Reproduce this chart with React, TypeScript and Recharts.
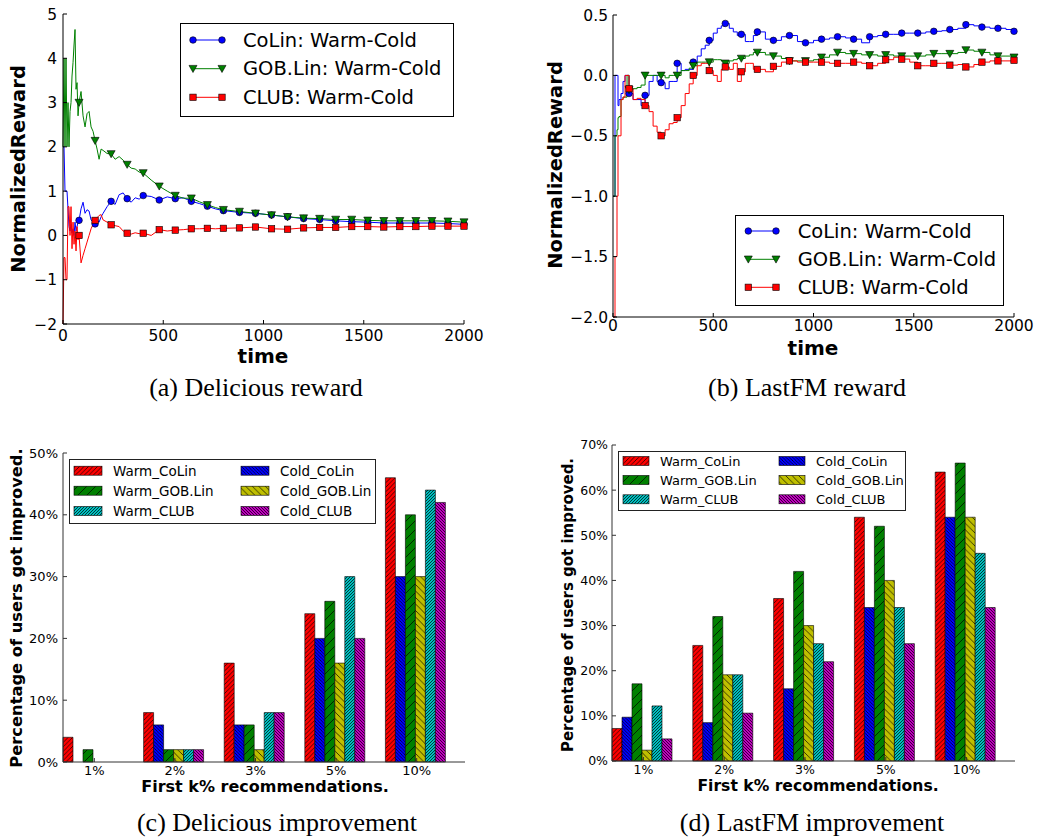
import React from 'react';
import { LineChart, Line, BarChart, Bar, XAxis, YAxis, Legend } from 'recharts';

const W = 1037;
const H = 839;
const SANS = '"DejaVu Sans", sans-serif';
const SERIF = '"Liberation Serif", "Times New Roman", serif';

// (a) Delicious reward
const timeA = [
  0, 5, 10, 15, 20, 25, 30, 35, 40, 45, 50, 55, 60, 65, 70, 75, 80,
  90, 100, 110, 120, 130, 140, 150, 160, 170, 180, 190, 200,
  220, 240, 260, 280, 300, 320, 340, 360, 380, 400,
  440, 480, 520, 560, 600, 640, 680, 720, 760, 800,
  880, 960, 1040, 1120, 1200, 1280, 1360, 1440, 1520, 1600, 1680, 1760, 1840, 1920, 2000,
];
const colinA = [
  2, 2, 1, 1, 1, 0.6, 0.2, 0.1, 0.25, 0.05, 0.15, 0.0, 0.3, 0.1, 0.2, 0.3, 0.34,
  0.6, 0.75, 0.5, 0.58, 0.55, 0.35, 0.3, 0.26, 0.35, 0.3, 0.42, 0.5,
  0.65, 0.77, 0.7, 0.92, 0.96, 0.83, 0.75, 0.85, 0.82, 0.9,
  0.88, 0.8, 0.87, 0.83, 0.85, 0.77, 0.72, 0.66, 0.6, 0.56,
  0.52, 0.5, 0.46, 0.42, 0.38, 0.36, 0.33, 0.31, 0.3, 0.28, 0.28, 0.28, 0.28, 0.27, 0.25,
];
const gobA = [
  2, 4, 2, 4, 2, 3, 2, 2.8, 3.0, 3.6, 3.9, 4.3, 4.65, 3.3, 3.45, 2.7, 3.0,
  3.25, 2.7, 2.45, 2.75, 2.8, 2.45, 2.35, 2.14, 1.95, 1.72, 1.95, 1.92,
  1.85, 1.84, 1.72, 1.78, 1.7, 1.6, 1.52, 1.5, 1.43, 1.41,
  1.25, 1.11, 1.0, 0.9, 0.84, 0.84, 0.76, 0.69, 0.63, 0.58,
  0.54, 0.5, 0.46, 0.42, 0.39, 0.38, 0.36, 0.36, 0.34, 0.33, 0.33, 0.33, 0.33, 0.32, 0.3,
];
const clubA = [
  -2, -0.5, -0.5, -1.0, -1.0, 0.65, 0.65, 0.0, 0.65, -0.3, 0.3, -0.2, 0.1, -0.35, 0.2, -0.1, 0.0,
  -0.62, -0.45, -0.3, -0.15, 0.0, 0.15, 0.25, 0.34, 0.4, 0.45, 0.47, 0.35,
  0.3, 0.24, 0.22, 0.2, 0.1, 0.05, 0.03, 0.06, 0.04, 0.05,
  0.0, 0.13, 0.1, 0.12, 0.13, 0.15, 0.15, 0.16, 0.15, 0.16,
  0.17, 0.19, 0.15, 0.14, 0.17, 0.18, 0.18, 0.2, 0.2, 0.19, 0.2, 0.2, 0.21, 0.21, 0.21,
];

// (b) LastFM reward
const timeB = [
  0, 5, 10, 15, 20, 25, 30, 40, 50, 60, 70, 80,
  100, 120, 140, 160, 180, 200, 220, 240, 260, 280, 300, 320, 340, 360, 380, 400,
  420, 440, 460, 480, 500, 520, 540, 560, 580, 600, 620, 640, 660, 680, 700, 720,
  760, 800, 840, 880, 920, 960, 1000, 1040, 1080, 1120, 1160, 1200, 1240, 1280, 1320, 1360,
  1400, 1440, 1480, 1520, 1560, 1600, 1640, 1680, 1720, 1760, 1800, 1840, 1880, 1920, 1960, 2000,
];
const colinB = [
  -1.0, -1.0, 0, 0, 0, -0.25, -0.2, -0.15, -0.05, 0, 0, -0.15,
  -0.2, -0.2, -0.25, -0.165, -0.05, 0.0, -0.05, -0.06, -0.11, -0.05, -0.05, 0.1, 0.04, 0.05, 0.05, 0.11,
  0.16, 0.22, 0.25, 0.29, 0.35, 0.39, 0.41, 0.43, 0.39, 0.36, 0.33, 0.34, 0.28, 0.28, 0.33, 0.36,
  0.3, 0.29, 0.32, 0.33, 0.28, 0.27, 0.29, 0.3, 0.31, 0.32, 0.31, 0.3, 0.27, 0.32, 0.33, 0.34,
  0.34, 0.35, 0.35, 0.35, 0.36, 0.365, 0.37, 0.38, 0.39, 0.42, 0.41, 0.4, 0.39, 0.39, 0.38, 0.365,
];
const gobB = [
  -1.0, -1.0, -0.5, -0.5, -0.45, -0.35, -0.34, -0.2, -0.18, -0.18, 0, -0.12,
  -0.11, -0.1, -0.08, 0.0, 0.0, 0.0, 0.0, 0.0, -0.02, 0.0, 0.0, 0.0, 0.04, 0.04, 0.06, 0.08,
  0.11, 0.11, 0.11, 0.11, 0.13, 0.13, 0.12, 0.1, 0.12, 0.13, 0.14, 0.14, 0.16, 0.17, 0.19, 0.19,
  0.17, 0.16, 0.14, 0.12, 0.12, 0.12, 0.13, 0.15, 0.17, 0.19, 0.18, 0.18, 0.17, 0.17, 0.16, 0.17,
  0.16, 0.16, 0.16, 0.16, 0.17, 0.18, 0.18, 0.18, 0.19, 0.21, 0.2, 0.19, 0.17, 0.16, 0.16, 0.15,
];
const clubB = [
  -2.0, -2.0, -1.5, -1.5, -1.0, -0.5, -0.5, -0.2, -0.18, 0.0, 0.0, -0.11,
  -0.2, -0.19, -0.2, -0.25, -0.3, -0.42, -0.47, -0.5, -0.45, -0.4, -0.39, -0.35, -0.25, -0.15, -0.07, 0.0,
  0.08, 0.1, 0.1, 0.04, 0.0, -0.05, 0.05, 0.07, 0.05, 0.1, -0.05, 0.03, 0.1, 0.1, 0.05, 0.05,
  0.03, 0.075, 0.11, 0.12, 0.11, 0.11, 0.11, 0.11, 0.1, 0.1, 0.1, 0.11, 0.1, 0.08, 0.1, 0.13,
  0.15, 0.135, 0.11, 0.08, 0.08, 0.1, 0.1, 0.085, 0.09, 0.07, 0.09, 0.11, 0.12, 0.12, 0.12, 0.125,
];

// (c) / (d) improvement bars
const categories = ['1%', '2%', '3%', '5%', '10%'];

const warmColinC = [4, 8, 16, 24, 46];
const coldColinC = [0, 6, 6, 20, 30];
const warmGobC = [2, 2, 6, 26, 40];
const coldGobC = [0, 2, 2, 16, 30];
const warmClubC = [0, 2, 8, 30, 44];
const coldClubC = [0, 2, 8, 20, 42];

const warmColinD = [7.2, 25.6, 36, 54, 64];
const coldColinD = [9.7, 8.5, 16, 34, 54];
const warmGobD = [17.1, 32, 42, 52, 66];
const coldGobD = [2.4, 19.1, 30, 40, 54];
const warmClubD = [12.2, 19.1, 26, 34, 46];
const coldClubD = [4.9, 10.6, 22, 26, 34];

const rowsA = timeA.map((t, i) => ({ t, colin: colinA[i], gob: gobA[i], club: clubA[i] }));
const rowsB = timeB.map((t, i) => ({ t, colin: colinB[i], gob: gobB[i], club: clubB[i] }));
const rowsC = categories.map((k, i) => ({
  k,
  warmColin: warmColinC[i], coldColin: coldColinC[i], warmGob: warmGobC[i],
  coldGob: coldGobC[i], warmClub: warmClubC[i], coldClub: coldClubC[i],
}));
const rowsD = categories.map((k, i) => ({
  k,
  warmColin: warmColinD[i], coldColin: coldColinD[i], warmGob: warmGobD[i],
  coldGob: coldGobD[i], warmClub: warmClubD[i], coldClub: coldClubD[i],
}));

const lineSeries = [
  { key: 'colin', name: 'CoLin: Warm-Cold', color: '#0000ff', shape: 'circle' },
  { key: 'gob', name: 'GOB.Lin: Warm-Cold', color: '#008000', shape: 'triangle' },
  { key: 'club', name: 'CLUB: Warm-Cold', color: '#ff0000', shape: 'square' },
];

// bar order inside a group, with hatch style
const barSeries = [
  { key: 'warmColin', name: 'Warm_CoLin', color: '#ff0000', dir: '/', gap: 4.5 },
  { key: 'coldColin', name: 'Cold_CoLin', color: '#0000ff', dir: '\\', gap: 3.3 },
  { key: 'warmGob', name: 'Warm_GOB.Lin', color: '#008000', dir: '/', gap: 9 },
  { key: 'coldGob', name: 'Cold_GOB.Lin', color: '#bfbf00', dir: '\\', gap: 6.5 },
  { key: 'warmClub', name: 'Warm_CLUB', color: '#00bfbf', dir: '/', gap: 3 },
  { key: 'coldClub', name: 'Cold_CLUB', color: '#bf00bf', dir: '\\', gap: 3 },
];
const legendOrder = ['warmColin', 'warmGob', 'warmClub', 'coldColin', 'coldGob', 'coldClub'];

const hatchPath = (dir: string, s: number) =>
  dir === '/'
    ? `M-1,1 l2,-2 M0,${s} l${s},${-s} M${s - 1},${s + 1} l2,-2`
    : `M-1,${s - 1} l2,2 M0,0 l${s},${s} M${s - 1},-1 l2,2`;

const Hatches = () => (
  <svg width={0} height={0} style={{ position: 'absolute' }}>
    <defs>
      {barSeries.map((s) => (
        <pattern key={s.key} id={`hatch-${s.key}`} patternUnits="userSpaceOnUse" width={s.gap} height={s.gap}>
          <rect width={s.gap} height={s.gap} fill={s.color} />
          <path d={hatchPath(s.dir, s.gap)} stroke="#000" strokeWidth={0.7} />
        </pattern>
      ))}
    </defs>
  </svg>
);

const Marker = ({ shape, x, y, color }: any) => {
  if (shape === 'circle') return <circle cx={x} cy={y} r={3.3} fill={color} stroke="#000" strokeWidth={0.6} />;
  if (shape === 'triangle')
    return (
      <polygon
        points={`${x - 4},${y - 3.3} ${x + 4},${y - 3.3} ${x},${y + 3.8}`}
        fill={color}
        stroke="#000"
        strokeWidth={0.6}
      />
    );
  return <rect x={x - 3.2} y={y - 3.2} width={6.4} height={6.4} fill={color} stroke="#000" strokeWidth={0.6} />;
};

// markers only every 80 steps, like markevery
const markerDot = (shape: string, color: string) => (props: any) => {
  const { cx, cy, payload, index } = props;
  if (!payload || payload.t === 0 || payload.t % 80 !== 0) return <g key={`d-${index}`} />;
  return (
    <g key={`d-${index}`}>
      <Marker shape={shape} x={cx} y={cy} color={color} />
    </g>
  );
};

const LineLegend = ({ w, h, rows, x1, x2, tx, fontSize }: any) => (
  <svg width={w} height={h} style={{ display: 'block' }}>
    <rect x={0.5} y={0.5} width={w - 1} height={h - 1} fill="#fff" stroke="#000" strokeWidth={1} />
    {lineSeries.map((s, i) => (
      <g key={s.key}>
        <line x1={x1} x2={x2} y1={rows[i]} y2={rows[i]} stroke={s.color} strokeWidth={1} />
        <Marker shape={s.shape} x={x1} y={rows[i]} color={s.color} />
        <Marker shape={s.shape} x={x2} y={rows[i]} color={s.color} />
        <text x={tx} y={rows[i]} dominantBaseline="central" fontFamily={SANS} fontSize={fontSize} fill="#000">
          {s.name}
        </text>
      </g>
    ))}
  </svg>
);

const BarLegend = ({ w, h, rows, cols, sw, tx, fontSize }: any) => (
  <svg width={w} height={h} style={{ display: 'block' }}>
    <rect x={0.5} y={0.5} width={w - 1} height={h - 1} fill="#fff" stroke="#222" strokeWidth={1} />
    {legendOrder.map((key, i) => {
      const s = barSeries.find((b) => b.key === key)!;
      const c = Math.floor(i / 3);
      const y = rows[i % 3];
      return (
        <g key={key}>
          <rect x={cols[c]} y={y - 4.5} width={sw} height={9} fill={`url(#hatch-${key})`} stroke="#000" strokeWidth={0.6} />
          <text x={cols[c] + tx} y={y} dominantBaseline="central" fontFamily={SANS} fontSize={fontSize} fill="#000">
            {s.name}
          </text>
        </g>
      );
    })}
  </svg>
);

const signed = (v: number, digits: number) =>
  `${v < 0 ? '\u2212' : ''}${Math.abs(v).toFixed(digits)}`;

const RewardChart = ({ rows, plot, domain, ticks, digits, step, legend, xMargin, yMargin }: any) => {
  const tickStyle = { fontFamily: SANS, fontSize: 15.5, fill: '#000' };
  return (
    <div style={{ position: 'absolute', left: 0, top: 0 }}>
      <LineChart
        width={W}
        height={H}
        data={rows}
        margin={{ top: plot.top, left: plot.left - 50, right: W - plot.right, bottom: H - plot.bottom - 30 }}
      >
        <XAxis
          dataKey="t"
          type="number"
          domain={[0, 2000]}
          ticks={[0, 500, 1000, 1500, 2000]}
          height={30}
          tickSize={-4}
          tickMargin={xMargin}
          stroke="#000"
          tick={tickStyle}
        />
        <XAxis xAxisId="top" orientation="top" dataKey="t" type="number" domain={[0, 2000]}
          ticks={[0, 500, 1000, 1500, 2000]} height={0} tick={false} tickSize={-4} stroke="#000" />
        <YAxis
          domain={domain}
          ticks={ticks}
          width={50}
          tickSize={-4}
          tickMargin={yMargin}
          stroke="#000"
          tick={tickStyle}
          tickFormatter={(v: number) => signed(v, digits)}
        />
        <YAxis yAxisId="right" orientation="right" domain={domain} ticks={ticks} width={0}
          tick={false} tickSize={-4} stroke="#000" />
        <Legend
          layout="vertical"
          align="center"
          verticalAlign="middle"
          wrapperStyle={{ left: legend.left, top: legend.top, width: legend.w, height: legend.h }}
          content={() => <LineLegend {...legend} />}
        />
        {lineSeries.map((s) => (
          <Line
            key={s.key}
            dataKey={s.key}
            name={s.name}
            type={step ? 'stepAfter' : 'linear'}
            stroke={s.color}
            strokeWidth={1}
            dot={markerDot(s.shape, s.color)}
            activeDot={false}
            isAnimationActive={false}
          />
        ))}
      </LineChart>
    </div>
  );
};

const ImproveChart = ({ rows, plot, yMax, legend, fontSize, yMargin }: any) => {
  const ticks = [];
  for (let v = 0; v <= yMax; v += 10) ticks.push(v);
  const tickStyle = { fontFamily: SANS, fontSize, fill: '#000' };
  return (
    <div style={{ position: 'absolute', left: 0, top: 0 }}>
      <BarChart
        width={W}
        height={H}
        data={rows}
        barCategoryGap={9}
        barGap={0}
        margin={{ top: plot.top, left: plot.left - 50, right: W - plot.right, bottom: H - plot.bottom - 30 }}
      >
        <XAxis dataKey="k" padding={{ left: -9, right: 8 }} height={30} tickSize={-4} tickMargin={8}
          stroke="#333" tick={tickStyle} />
        <XAxis xAxisId="top" orientation="top" dataKey="k" padding={{ left: -9, right: 8 }} height={0}
          tick={false} tickSize={-4} stroke="#333" />
        <YAxis domain={[0, yMax]} ticks={ticks} width={50} tickSize={-4} tickMargin={yMargin} stroke="#333"
          tick={tickStyle} tickFormatter={(v: number) => `${v}%`} />
        <YAxis yAxisId="right" orientation="right" domain={[0, yMax]} ticks={ticks} width={0} tick={false}
          tickSize={-4} stroke="#333" />
        <Legend
          layout="vertical"
          align="center"
          verticalAlign="middle"
          wrapperStyle={{ left: legend.left, top: legend.top, width: legend.w, height: legend.h }}
          content={() => <BarLegend {...legend} />}
        />
        {barSeries.map((s) => (
          <Bar
            key={s.key}
            dataKey={s.key}
            name={s.name}
            fill={`url(#hatch-${s.key})`}
            stroke="#000"
            strokeWidth={0.6}
            isAnimationActive={false}
          />
        ))}
      </BarChart>
    </div>
  );
};

const Label = ({ x, y, text, size, rotate, bold, serif }: any) => (
  <div
    style={{
      position: 'absolute',
      left: x,
      top: y,
      transform: `translate(-50%, -50%)${rotate ? ' rotate(-90deg)' : ''}`,
      whiteSpace: 'nowrap',
      fontFamily: serif ? SERIF : SANS,
      fontWeight: bold ? 'bold' : 'normal',
      fontSize: size,
      lineHeight: 1,
      color: '#000',
    }}
  >
    {text}
  </div>
);

export default function App() {
  return (
    <div style={{ position: 'absolute', left: 0, top: 0, width: W, height: H, background: '#fff', overflow: 'hidden' }}>
      <Hatches />
      <RewardChart
        rows={rowsA}
        plot={{ left: 63, top: 14, right: 464, bottom: 324 }}
        domain={[-2, 5]}
        ticks={[-2, -1, 0, 1, 2, 3, 4, 5]}
        digits={0}
        step={false}
        xMargin={10}
        yMargin={10}
        legend={{ left: 180, top: 23, w: 274, h: 94, rows: [17, 45.7, 74.3], x1: 13, x2: 42, tx: 63, fontSize: 19.5 }}
      />
      <RewardChart
        rows={rowsB}
        plot={{ left: 613, top: 15, right: 1014, bottom: 317 }}
        domain={[-2, 0.5]}
        ticks={[-2, -1.5, -1, -0.5, 0, 0.5]}
        digits={1}
        step={true}
        xMargin={7}
        yMargin={9}
        legend={{ left: 735, top: 215, w: 269, h: 91, rows: [16, 44.3, 72.3], x1: 13.3, x2: 41, tx: 62.7, fontSize: 19.5 }}
      />
      <ImproveChart
        rows={rowsC}
        plot={{ left: 63, top: 453, right: 465, bottom: 762 }}
        yMax={50}
        fontSize={13}
        yMargin={9}
        legend={{ left: 69, top: 459, w: 307, h: 65, rows: [11.7, 31.7, 52], cols: [5, 172], sw: 28, tx: 39, fontSize: 13.5 }}
      />
      <ImproveChart
        rows={rowsD}
        plot={{ left: 612, top: 445, right: 1015, bottom: 761 }}
        yMax={70}
        fontSize={12.5}
        yMargin={8}
        legend={{ left: 618, top: 451, w: 288, h: 60, rows: [10, 29, 48.3], cols: [5, 161], sw: 26, tx: 37, fontSize: 13 }}
      />

      <Label x={19} y={169} text="NormalizedReward" size={19.5} rotate bold />
      <Label x={263} y={356} text="time" size={20} bold />
      <Label x={256} y={388} text="(a) Delicious reward" size={26} serif />

      <Label x={556} y={165} text="NormalizedReward" size={19.5} rotate bold />
      <Label x={813} y={348} text="time" size={20} bold />
      <Label x={807} y={388} text="(b) LastFM reward" size={26} serif />

      <Label x={17} y={608} text="Percentage of users got improved." size={16.3} rotate bold />
      <Label x={265} y={787} text="First k% recommendations." size={16} bold />
      <Label x={277} y={823} text="(c) Delicious improvement" size={26} serif />

      <Label x={568} y={605} text="Percentage of users got improved." size={15} rotate bold />
      <Label x={818} y={787} text="First k% recommendations." size={15.6} bold />
      <Label x={812} y={823} text="(d) LastFM improvement" size={26} serif />
    </div>
  );
}
